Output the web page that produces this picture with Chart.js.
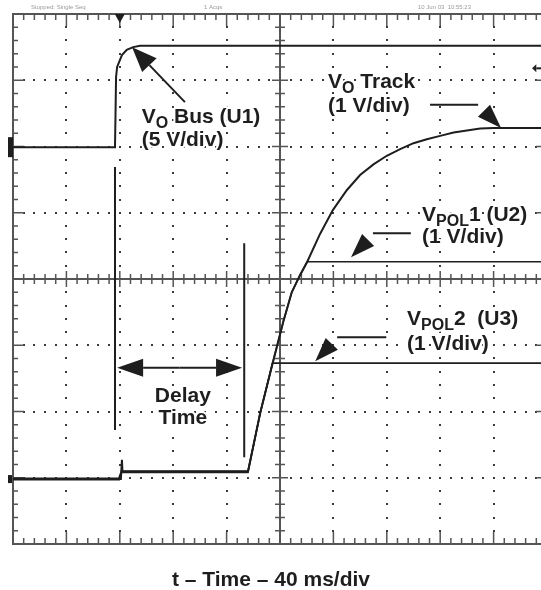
<!DOCTYPE html>
<html lang="en">
<head>
    <meta charset="UTF-8">
    <title>Tracking Start-Up Delay</title>
    <script src="https://cdn.jsdelivr.net/npm/chart.js"></script>
    <style>
        html, body {
            margin: 0;
            padding: 0;
            background: #fff;
            overflow: hidden;
        }

        .wrap {
            width: 541px;
            height: 590px;
            overflow: hidden; /* the right edge of the screen is cut off */
        }

        canvas {
            display: block;
        }
    </style>
</head>
<body>
    <div class="wrap">
        <canvas id="scope" width="560" height="590"></canvas>
    </div>

    <script>
        // x and y in screen divisions (10 x 8), y = 0 at the bottom of the screen
        const busX = [0, 1.91, 1.92, 1.93, 1.95, 2.04, 2.13, 2.25, 2.38, 10];
        const busY = [5.99, 5.99, 6.5, 7.05, 7.2, 7.38, 7.46, 7.50, 7.52, 7.52];

        const trackX = [0, 1.98, 2.02, 2.04, 2.05, 4.40, 4.63, 4.85, 5.06, 5.22, 5.37, 5.51, 5.75, 5.99, 6.25, 6.50, 6.75, 7.00, 7.25, 7.50, 7.75, 8.00, 8.25, 8.50, 8.75, 9.00, 10];
        const trackY = [0.98, 0.98, 0.98, 1.27, 1.09, 1.09, 1.98, 2.69, 3.35, 3.80, 4.05, 4.26, 4.68, 5.04, 5.34, 5.57, 5.73, 5.86, 5.96, 6.05, 6.11, 6.16, 6.21, 6.24, 6.27, 6.28, 6.28];

        const pol1X = [0, 1.98, 2.03, 4.40, 4.63, 4.85, 5.06, 5.22, 5.37, 5.51, 10];
        const pol1Y = [0.99, 0.99, 1.10, 1.10, 1.98, 2.69, 3.35, 3.80, 4.05, 4.26, 4.26];

        const pol2X = [0, 1.99, 2.03, 4.40, 4.63, 4.86, 10];
        const pol2Y = [0.97, 0.97, 1.08, 1.08, 1.98, 2.73, 2.73];

        const toPoints = (xs, ys) => xs.map((v, i) => ({ x: v, y: ys[i] }));

        // labels: lines of text, {..} = subscript
        const notes = [
            { x: 2.41, ys: [6.35, 6.01], lines: ["V{O} Bus (U1)", "(5 V/div)"], align: "left" },
            { x: 5.90, ys: [6.88, 6.52], lines: ["V{O} Track", "(1 V/div)"], align: "left" },
            { x: 7.66, ys: [4.87, 4.54], lines: ["V{POL}1 (U2)", "(1 V/div)"], align: "left" },
            { x: 7.38, ys: [3.31, 2.93], lines: ["V{POL}2  (U3)", "(1 V/div)"], align: "left" },
            { x: 3.18, ys: [2.14, 1.81], lines: ["Delay", "Time"], align: "center" }
        ];

        // leader lines [x1, x2, y] and arrow heads [baseX, baseY, tipX, tipY]
        const leaders = [[7.81, 8.71, 6.63], [6.74, 7.45, 4.69], [6.07, 6.99, 3.12]];
        const heads = [[8.82, 6.54, 9.14, 6.28], [6.65, 4.59, 6.33, 4.33], [5.97, 3.02, 5.66, 2.76]];
        const busArrow = [3.22, 6.67, 2.23, 7.50];
        const delayArrow = [1.95, 4.29, 2.66];
        const cursors = [[1.91, 5.69, 1.72], [4.33, 4.54, 1.31]];

        const FONT = '"Liberation Sans", Arial, sans-serif';
        const INK = "#1e1e1e";
        const GRID = "#555";

        function drawRich(ctx, str, x, yb, align) {
            const parts = str.split(/(\{[^}]*\})/).filter(s => s.length);
            const runs = parts.map(s => {
                const sub = s.startsWith("{");
                return { t: sub ? s.slice(1, -1) : s, sub: sub };
            });
            let w = 0;
            runs.forEach(r => {
                ctx.font = (r.sub ? "bold 16px " : "bold 21px ") + FONT;
                r.w = ctx.measureText(r.t).width;
                w += r.w;
            });
            let cx = align === "center" ? x - w / 2 : x;
            ctx.textAlign = "left";
            ctx.lineJoin = "round";
            runs.forEach(r => {
                ctx.font = (r.sub ? "bold 16px " : "bold 21px ") + FONT;
                const yy = yb + (r.sub ? 5 : 0);
                ctx.save();
                ctx.strokeStyle = "#fff";
                ctx.lineWidth = 4;
                ctx.strokeText(r.t, cx, yy);
                ctx.restore();
                ctx.fillText(r.t, cx, yy);
                cx += r.w;
            });
        }

        function head(ctx, bx, by, tx, ty, hw) {
            const dx = tx - bx, dy = ty - by;
            const len = Math.hypot(dx, dy);
            const px = -dy / len * hw, py = dx / len * hw;
            ctx.beginPath();
            ctx.moveTo(tx, ty);
            ctx.lineTo(bx + px, by + py);
            ctx.lineTo(bx - px, by - py);
            ctx.closePath();
            ctx.fill();
        }

        function arrow(ctx, x1, y1, x2, y2, L, hw) {
            const len = Math.hypot(x2 - x1, y2 - y1);
            const bx = x2 - (x2 - x1) / len * L, by = y2 - (y2 - y1) / len * L;
            ctx.beginPath();
            ctx.moveTo(x1, y1);
            ctx.lineTo(bx, by);
            ctx.stroke();
            head(ctx, bx, by, x2, y2, hw);
        }

        const scopeDecor = {
            id: "scopeDecor",
            beforeDatasetsDraw(chart) {
                const { ctx, chartArea: a, scales: { x, y } } = chart;
                ctx.save();

                // dotted graticule
                ctx.fillStyle = "#3a3a3a";
                for (let i = 1; i < 10; i++) {
                    if (i === 5) continue;
                    const px = Math.round(x.getPixelForValue(i));
                    for (let j = 1; j < 40; j++) {
                        ctx.fillRect(px - 1, Math.round(y.getPixelForValue(j * 0.2)) - 1, 2, 2);
                    }
                }
                for (let i = 1; i < 8; i++) {
                    if (i === 4) continue;
                    const py = Math.round(y.getPixelForValue(i));
                    for (let j = 1; j < 50; j++) {
                        ctx.fillRect(Math.round(x.getPixelForValue(j * 0.2)) - 1, py - 1, 2, 2);
                    }
                }

                // border and centre axes
                ctx.strokeStyle = GRID;
                ctx.lineWidth = 2;
                ctx.strokeRect(a.left, a.top, a.right - a.left, a.bottom - a.top);
                const cx = x.getPixelForValue(5), cy = y.getPixelForValue(4);
                ctx.beginPath();
                ctx.moveTo(a.left, cy); ctx.lineTo(a.right, cy);
                ctx.moveTo(cx, a.top); ctx.lineTo(cx, a.bottom);
                ctx.stroke();

                // tick marks
                ctx.lineWidth = 1.5;
                ctx.beginPath();
                for (let j = 1; j < 50; j++) {
                    const px = x.getPixelForValue(j * 0.2);
                    const major = j % 5 === 0;
                    const t = major ? 12 : 6, c = major ? 8 : 5;
                    ctx.moveTo(px, a.top); ctx.lineTo(px, a.top + t);
                    ctx.moveTo(px, a.bottom); ctx.lineTo(px, a.bottom - t);
                    ctx.moveTo(px, cy - c); ctx.lineTo(px, cy + c);
                }
                for (let j = 1; j < 40; j++) {
                    const py = y.getPixelForValue(j * 0.2);
                    const major = j % 5 === 0;
                    const t = major ? 11 : 5, c = major ? 8 : 5;
                    ctx.moveTo(a.left, py); ctx.lineTo(a.left + t, py);
                    ctx.moveTo(a.right, py); ctx.lineTo(a.right - t, py);
                    ctx.moveTo(cx - c, py); ctx.lineTo(cx + c, py);
                }
                ctx.stroke();
                ctx.restore();
            },
            afterDraw(chart) {
                const { ctx, chartArea: a, scales: { x, y } } = chart;
                const X = v => x.getPixelForValue(v), Y = v => y.getPixelForValue(v);
                ctx.save();
                ctx.fillStyle = INK;
                ctx.strokeStyle = INK;
                ctx.textBaseline = "alphabetic";

                // ground markers on the left edge and trigger marker on top
                ctx.fillRect(a.left - 5, Y(busY[0]) - 10, 5, 20);
                ctx.fillRect(a.left - 5, Y(trackY[0]) - 4, 4, 8);
                head(ctx, X(2.0), a.top, X(2.0), a.top + 9, 5);
                // reference marker on the right
                ctx.lineWidth = 2;
                ctx.beginPath();
                ctx.moveTo(X(9.8), Y(7.18)); ctx.lineTo(X(9.95), Y(7.18));
                ctx.stroke();
                head(ctx, X(9.8), Y(7.18), X(9.72), Y(7.18), 4);

                // delay cursors
                ctx.lineWidth = 2;
                ctx.beginPath();
                cursors.forEach(c => {
                    ctx.moveTo(X(c[0]), Y(c[1]));
                    ctx.lineTo(X(c[0]), Y(c[2]));
                });
                ctx.stroke();

                // arrows
                arrow(ctx, X(busArrow[0]), Y(busArrow[1]), X(busArrow[2]), Y(busArrow[3]), 25, 10);
                const dm = (delayArrow[0] + delayArrow[1]) / 2;
                arrow(ctx, X(dm), Y(delayArrow[2]), X(delayArrow[0]), Y(delayArrow[2]), 26, 9);
                arrow(ctx, X(dm), Y(delayArrow[2]), X(delayArrow[1]), Y(delayArrow[2]), 26, 9);
                ctx.beginPath();
                leaders.forEach(l => {
                    ctx.moveTo(X(l[0]), Y(l[2]));
                    ctx.lineTo(X(l[1]), Y(l[2]));
                });
                ctx.stroke();
                heads.forEach(h => head(ctx, X(h[0]), Y(h[1]), X(h[2]), Y(h[3]), 8.5));

                // labels
                notes.forEach(n => {
                    n.lines.forEach((s, i) => drawRich(ctx, s, X(n.x), Y(n.ys[i]), n.align));
                });

                // axis title
                drawRich(ctx, "t – Time – 40 ms/div", 271, 586, "center");

                // faint scope status line
                ctx.fillStyle = "#9a9a9a";
                ctx.font = "6px " + FONT;
                ctx.fillText("Stopped: Single Seq", 31, 9);
                ctx.fillText("1 Acqs", 204, 9);
                ctx.fillText("10 Jun 03  10:55:23", 418, 9);
                ctx.restore();
            }
        };

        const trace = (label, xs, ys, w) => ({
            label: label,
            data: toPoints(xs, ys),
            showLine: true,
            borderColor: INK,
            borderWidth: w,
            pointRadius: 0,
            tension: 0,
            fill: false
        });

        new Chart(document.getElementById("scope").getContext("2d"), {
            type: "scatter",
            data: {
                datasets: [
                    trace("VO Bus (U1)", busX, busY, 2),
                    trace("VPOL2 (U3)", pol2X, pol2Y, 1.6),
                    trace("VPOL1 (U2)", pol1X, pol1Y, 1.6),
                    trace("VO Track", trackX, trackY, 2)
                ]
            },
            options: {
                responsive: false,
                animation: false,
                devicePixelRatio: 1,
                layout: {
                    padding: { left: 13, top: 14, right: 13, bottom: 46 }
                },
                plugins: {
                    legend: { display: false },
                    tooltip: { enabled: false }
                },
                scales: {
                    x: { type: "linear", min: 0, max: 10, display: false },
                    y: { type: "linear", min: 0, max: 8, display: false }
                }
            },
            plugins: [scopeDecor]
        });
    </script>
</body>
</html>
